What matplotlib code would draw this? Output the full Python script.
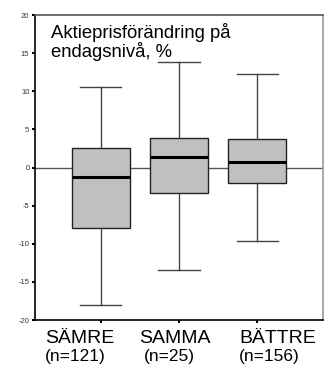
import matplotlib
matplotlib.use("Agg")
import matplotlib.pyplot as plt

plt.rcParams['font.family'] = ['Liberation Sans', 'DejaVu Sans']

# Box statistics (percent change)
categories = ["SÄMRE", "SAMMA", "BÄTTRE"]
counts = [121, 25, 156]
whisker_low = [-18.0, -13.4, -9.7]
q1 = [-7.9, -3.4, -2.0]
median = [-1.2, 1.4, 0.7]
q3 = [2.5, 3.9, 3.8]
whisker_high = [10.5, 13.8, 12.3]
yticks = [-20, -15, -10, -5, 0, 5, 10, 15, 20]

stats = []
for i, name in enumerate(categories):
    stats.append({
        "label": name,
        "whislo": whisker_low[i],
        "q1": q1[i],
        "med": median[i],
        "q3": q3[i],
        "whishi": whisker_high[i],
        "fliers": [],
    })

fig = plt.figure(figsize=(3.24, 3.67), dpi=100)
ax = fig.add_axes([0.108, 0.128, 0.889, 0.831])

# zero reference line behind the boxes
ax.axhline(0, color="#555555", lw=1.0, zorder=1)

ax.bxp(stats, positions=[1, 2, 3], widths=0.74, patch_artist=True,
       showfliers=False,
       boxprops=dict(facecolor="#c0c0c0", edgecolor="#222222", lw=1.0),
       medianprops=dict(color="black", lw=2.2),
       whiskerprops=dict(color="#444444", lw=1.0),
       capprops=dict(color="#444444", lw=1.0),
       capwidths=0.53, zorder=2)

ax.set_xlim(0.16, 3.84)
ax.set_ylim(-20, 20)
ax.set_yticks(yticks)
ax.set_yticklabels([str(v) for v in yticks], fontsize=5.5, color="#333333")
ax.tick_params(axis="y", length=2, width=1.5, pad=2, color="black")
ax.set_xticks([1, 2, 3])
ax.set_xticklabels([])
ax.tick_params(axis="x", length=2, width=1.5, color="black")

# category names and group sizes below the axis (spread a bit wider than the boxes)
name_x = [0.735, 1.95, 3.26]
count_x = [0.68, 1.88, 3.15]
for i, (name, n) in enumerate(zip(categories, counts)):
    ax.text(name_x[i], -0.062, name, transform=ax.get_xaxis_transform(),
            ha="center", va="center", fontsize=14)
    ax.text(count_x[i], -0.118, f"(n={n})", transform=ax.get_xaxis_transform(),
            ha="center", va="center", fontsize=12.5)

ax.spines["left"].set_color("black")
ax.spines["bottom"].set_color("black")
ax.spines["top"].set_color("#555555")
ax.spines["right"].set_color("#999999")
for s in ax.spines.values():
    s.set_linewidth(1.2)

ax.text(0.055, 0.975, "Aktieprisförändring på\nendagsnivå, %",
        transform=ax.transAxes, ha="left", va="top", fontsize=13.3,
        linespacing=1.05)

fig.savefig("out.png", dpi=100)
